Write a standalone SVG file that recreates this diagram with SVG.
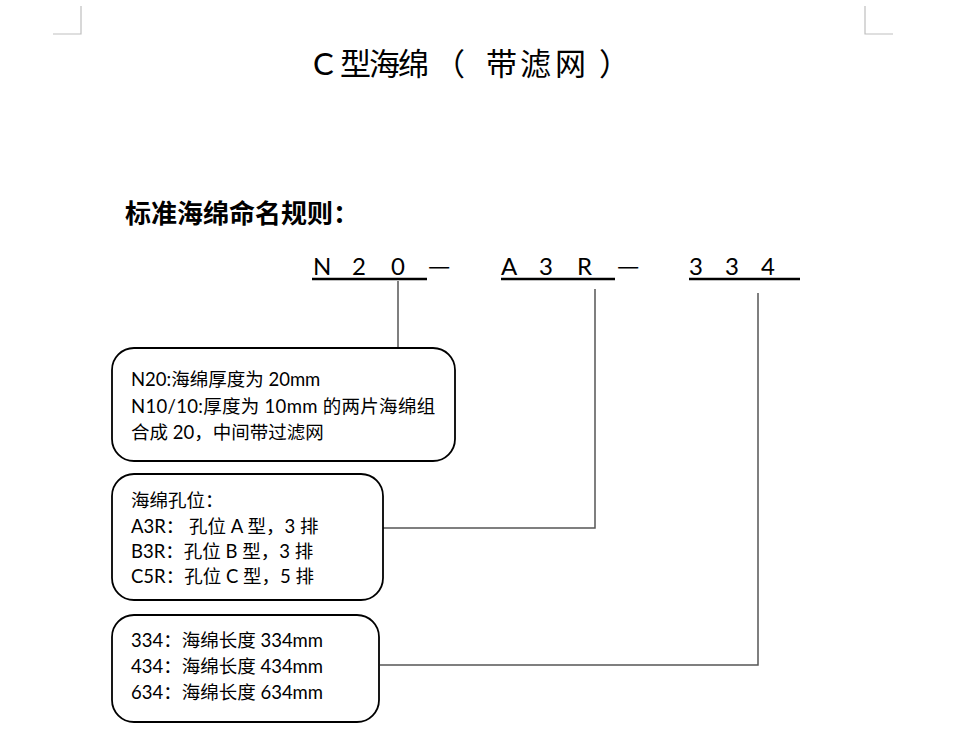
<svg xmlns="http://www.w3.org/2000/svg" width="979" height="752" viewBox="0 0 979 752">
<style>
.corner{stroke:#bfbfbf;stroke-width:1.2;fill:none}
.box{fill:#fff;stroke:#000;stroke-width:1.8}
.conn{stroke:#555;stroke-width:1.5;fill:none}
.ul{stroke:#000;stroke-width:2.4}
.t{font-family:"Lato","Noto Sans CJK SC",sans-serif;font-size:18.5px;fill:#000}
.code{font-family:"Lato","Noto Sans CJK SC",sans-serif;font-size:24px;fill:#000}
.dash{font-family:"Noto Sans CJK SC",sans-serif;font-size:25px;fill:#000}
.title{font-family:"Lato","Noto Sans CJK SC",sans-serif;font-size:31px;fill:#000}
.head{font-family:"Noto Sans CJK SC",sans-serif;font-size:26px;font-weight:bold;fill:#000}
</style>
<rect width="979" height="752" fill="#fff"/>
<g id="corners">
<path class="corner" d="M81 6V34H53"/>
<path class="corner" d="M865 6V34H893"/>
</g>
<g id="title">
<text class="title" y="75"><tspan x="313">C</tspan><tspan x="340">型</tspan><tspan x="369">海</tspan><tspan x="398">绵</tspan><tspan x="434">（</tspan><tspan x="486">带</tspan><tspan x="520">滤</tspan><tspan x="555">网</tspan><tspan x="599">）</tspan></text>
</g>
<g id="heading">
<text class="head" x="125" y="223">标准海绵命名规则：</text>
</g>
<g id="code">
<text class="code" y="275"><tspan x="313">N</tspan><tspan x="352">2</tspan><tspan x="391">0</tspan><tspan x="501">A</tspan><tspan x="539">3</tspan><tspan x="577">R</tspan><tspan x="689">3</tspan><tspan x="725">3</tspan><tspan x="761">4</tspan></text>
<text class="dash" y="275"><tspan x="428">—</tspan><tspan x="617">—</tspan></text>
<line class="ul" x1="312" y1="279" x2="427" y2="279"/>
<line class="ul" x1="501" y1="279" x2="615" y2="279"/>
<line class="ul" x1="689" y1="279" x2="800" y2="279"/>
</g>
<g id="connectors">
<path class="conn" d="M398 281V348"/>
<path class="conn" d="M595 289V528H383"/>
<path class="conn" d="M758 293V665H380"/>
</g>
<g id="box-thickness">
<rect class="box" x="112" y="348" width="343" height="113" rx="22"/>
<text class="t" x="131" y="386">N20:海绵厚度为 20mm</text>
<text class="t" x="131" y="413" letter-spacing="0.3">N10/10:厚度为 10mm 的两片海绵组</text>
<text class="t" x="131" y="439">合成 20，中间带过滤网</text>
</g>
<g id="box-holes">
<rect class="box" x="112" y="474" width="271" height="126" rx="22"/>
<text class="t" x="131" y="507">海绵孔位：</text>
<text class="t" x="131" y="533">A3R： 孔位 A 型，3 排</text>
<text class="t" x="131" y="558">B3R：孔位 B 型，3 排</text>
<text class="t" x="131" y="583">C5R：孔位 C 型，5 排</text>
</g>
<g id="box-length">
<rect class="box" x="112" y="615" width="267" height="107" rx="22"/>
<text class="t" x="131" y="647">334：海绵长度 334mm</text>
<text class="t" x="131" y="673">434：海绵长度 434mm</text>
<text class="t" x="131" y="699">634：海绵长度 634mm</text>
</g>
</svg>
